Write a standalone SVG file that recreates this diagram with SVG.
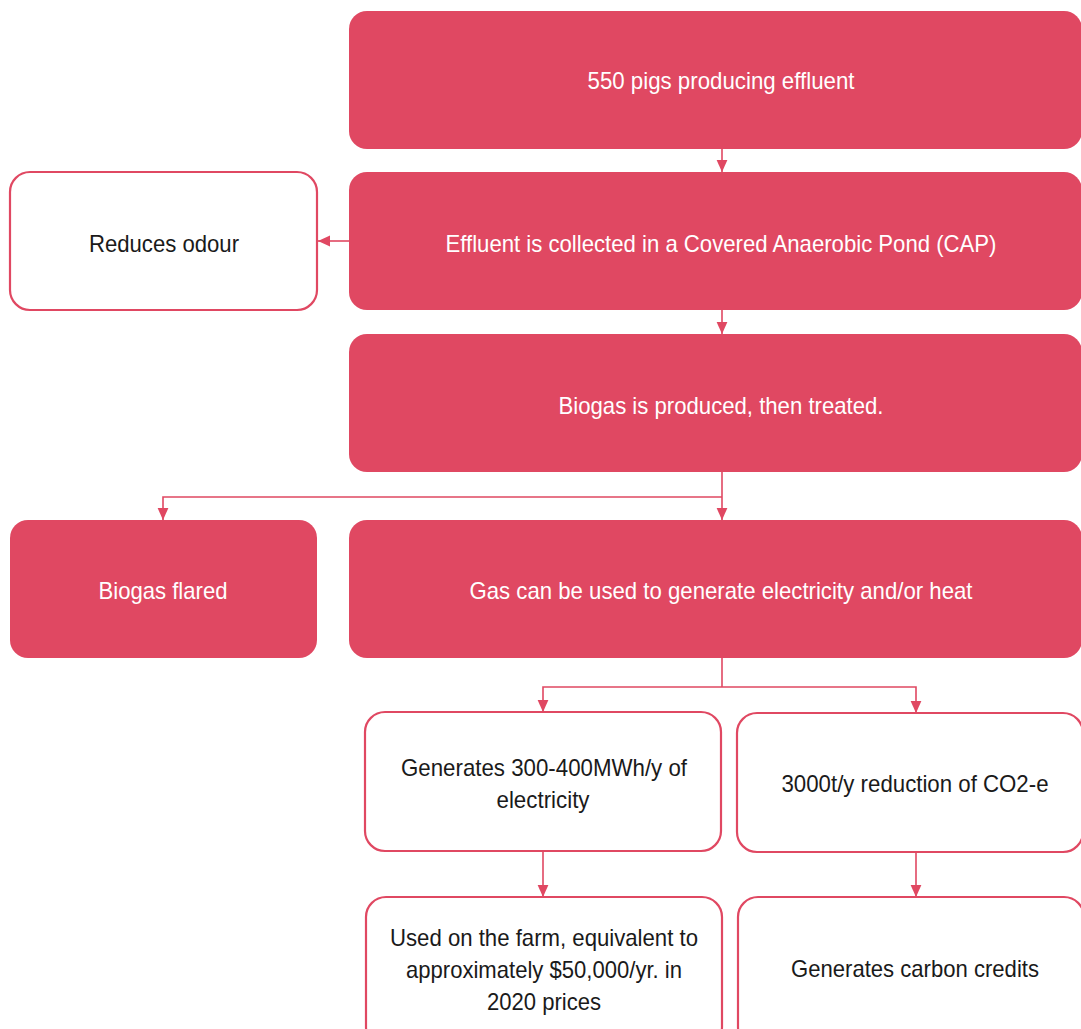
<svg xmlns="http://www.w3.org/2000/svg" width="1081" height="1029" viewBox="0 0 1081 1029">
<style>
.f{fill:#E04862;stroke:none}
.o{fill:#fff;stroke:#E04862;stroke-width:2.2}
.t{font-family:"Liberation Sans Narrow","Liberation Sans",Arial,sans-serif;font-size:24px;text-anchor:middle}
.w{fill:#fff}
.k{fill:#1a1a1a}
.c{fill:none;stroke:#E04862;stroke-width:1.6}
</style>
<defs>
<marker id="ah2" viewBox="0 0 10 10" refX="10" refY="5" markerWidth="12" markerHeight="12" markerUnits="userSpaceOnUse" orient="auto">
<path d="M0,0.5L10,5L0,9.5z" fill="#E04862"/>
</marker>
</defs>
<g id="connectors">
<path class="c" d="M722,149V172" marker-end="url(#ah2)"/>
<path class="c" d="M349,241H318" marker-end="url(#ah2)"/>
<path class="c" d="M722,310V334" marker-end="url(#ah2)"/>
<path class="c" d="M722,472V520" marker-end="url(#ah2)"/>
<path class="c" d="M722,497H163V520" marker-end="url(#ah2)"/>
<path class="c" d="M722,658V687" />
<path class="c" d="M722,687H543V712" marker-end="url(#ah2)"/>
<path class="c" d="M722,687H916V713" marker-end="url(#ah2)"/>
<path class="c" d="M543,851V897" marker-end="url(#ah2)"/>
<path class="c" d="M916,852V897" marker-end="url(#ah2)"/>
</g>
<g id="n1"><rect class="f" x="349" y="11" width="733" height="138" rx="18"/><text class="t w" x="721" y="89" textLength="267" lengthAdjust="spacingAndGlyphs">550 pigs producing effluent</text></g>
<g id="n2"><rect class="f" x="349" y="172" width="733" height="138" rx="18"/><text class="t w" x="721" y="252" textLength="551" lengthAdjust="spacingAndGlyphs">Effluent is collected in a Covered Anaerobic Pond (CAP)</text></g>
<g id="n3"><rect class="o" x="10" y="172" width="307" height="138" rx="20"/><text class="t k" x="164" y="252" textLength="150" lengthAdjust="spacingAndGlyphs">Reduces odour</text></g>
<g id="n4"><rect class="f" x="349" y="334" width="733" height="138" rx="18"/><text class="t w" x="721" y="414" textLength="325" lengthAdjust="spacingAndGlyphs">Biogas is produced, then treated.</text></g>
<g id="n5"><rect class="f" x="10" y="520" width="307" height="138" rx="18"/><text class="t w" x="163" y="599" textLength="129" lengthAdjust="spacingAndGlyphs">Biogas flared</text></g>
<g id="n6"><rect class="f" x="349" y="520" width="733" height="138" rx="18"/><text class="t w" x="721" y="599" textLength="503" lengthAdjust="spacingAndGlyphs">Gas can be used to generate electricity and/or heat</text></g>
<g id="n7"><rect class="o" x="365" y="712" width="356" height="139" rx="20"/><text class="t k" x="544" y="776" textLength="286" lengthAdjust="spacingAndGlyphs">Generates 300-400MWh/y of</text><text class="t k" x="543" y="808" textLength="93" lengthAdjust="spacingAndGlyphs">electricity</text></g>
<g id="n8"><rect class="o" x="737" y="713" width="346" height="139" rx="20"/><text class="t k" x="915" y="792" textLength="267" lengthAdjust="spacingAndGlyphs">3000t/y reduction of CO2-e</text></g>
<g id="n9"><rect class="o" x="366" y="897" width="356" height="150" rx="20"/><text class="t k" x="544" y="946" textLength="308" lengthAdjust="spacingAndGlyphs">Used on the farm, equivalent to</text><text class="t k" x="544" y="978" textLength="276" lengthAdjust="spacingAndGlyphs">approximately $50,000/yr. in</text><text class="t k" x="544" y="1010" textLength="114" lengthAdjust="spacingAndGlyphs">2020 prices</text></g>
<g id="n10"><rect class="o" x="738" y="897" width="346" height="150" rx="20"/><text class="t k" x="915" y="977" textLength="248" lengthAdjust="spacingAndGlyphs">Generates carbon credits</text></g>
</svg>
